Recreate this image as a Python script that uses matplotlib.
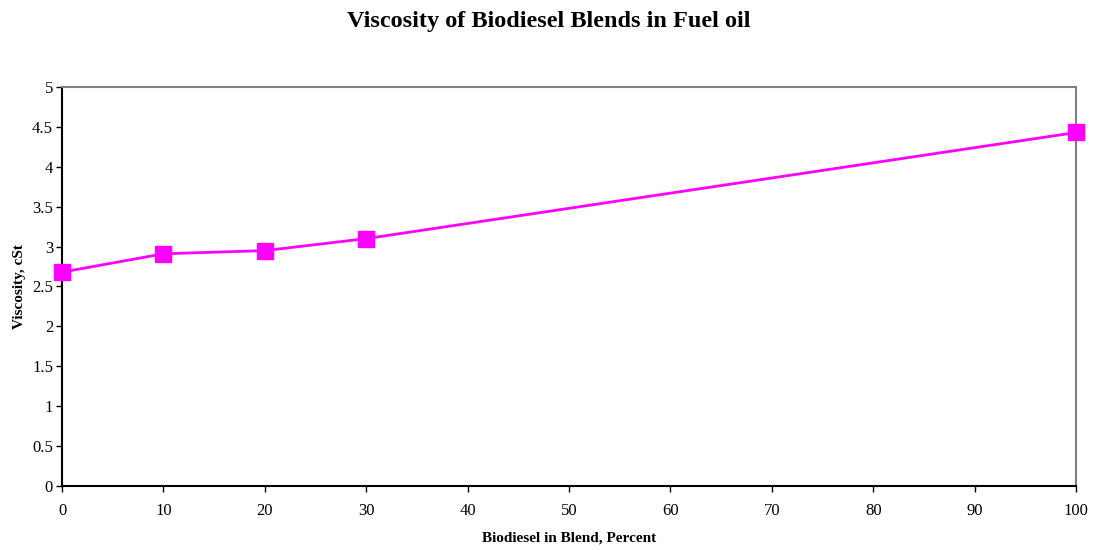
import matplotlib.pyplot as plt

# biodiesel share in the blend (percent) and measured viscosity (cSt)
blend_percent = [0, 10, 20, 30, 100]
viscosity = [2.68, 2.91, 2.95, 3.10, 4.43]

plt.rcParams['font.family'] = ['Liberation Serif', 'DejaVu Serif']

fig = plt.figure(figsize=(10.98, 5.5), dpi=100)
ax = fig.add_axes([0.0565, 0.1164, 0.9235, 0.7254])

ax.plot(blend_percent, viscosity, color='#ff00ff', linewidth=2,
        marker='s', markersize=11, clip_on=False, zorder=5)

ax.set_xlim(0, 100)
ax.set_ylim(0, 5)
ax.set_xticks(range(0, 101, 10))
ax.set_yticks([0, 0.5, 1, 1.5, 2, 2.5, 3, 3.5, 4, 4.5, 5])
ax.set_yticklabels(['0', '0.5', '1', '1.5', '2', '2.5', '3', '3.5', '4', '4.5', '5'])
ax.tick_params(direction='out', length=4, width=1, labelsize=12, color='black')
ax.tick_params(axis='x', pad=8)
ax.tick_params(axis='y', pad=2.5)

for side in ['left', 'bottom']:
    ax.spines[side].set_color('black')
    ax.spines[side].set_linewidth(1.5)
for side in ['top', 'right']:
    ax.spines[side].set_color('#808080')
    ax.spines[side].set_linewidth(1.5)

ax.set_xlabel('Biodiesel in Blend, Percent', fontsize=11, fontweight='bold', labelpad=9)
ax.set_ylabel('Viscosity, cSt', fontsize=11, fontweight='bold', labelpad=4)
fig.suptitle('Viscosity of Biodiesel Blends in Fuel oil', fontsize=17.5, fontweight='bold', y=0.98)

fig.savefig('out.png', dpi=100)
